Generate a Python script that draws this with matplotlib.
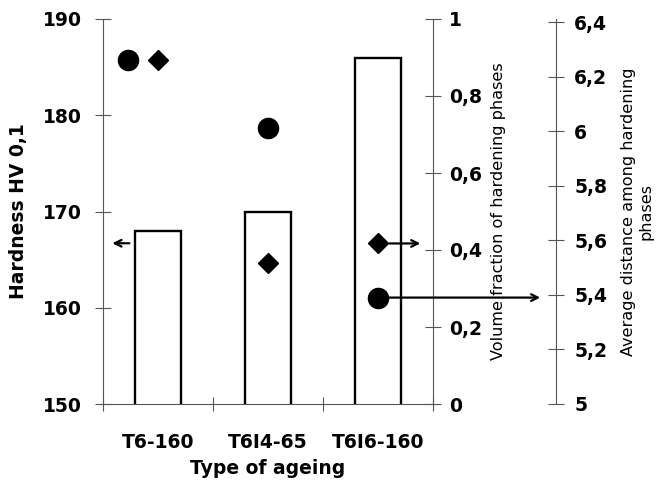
import numpy as np
import matplotlib.pyplot as plt
from matplotlib.ticker import FixedLocator, FuncFormatter

plt.rcParams['font.family'] = ['DejaVu Sans']

categories = ["T6-160", "T6I4-65", "T6I6-160"]
hardness = [168, 170, 186]
vol_fraction = [0.893, 0.366, 0.417]
avg_distance = [6.26, 6.01, 5.39]

hard_ticks = [150, 160, 170, 180, 190]
vol_ticks = [0, 0.2, 0.4, 0.6, 0.8, 1]
dist_ticks = [5, 5.2, 5.4, 5.6, 5.8, 6, 6.2, 6.4]

gray = "#555555"
comma = FuncFormatter(lambda v, p: ("%g" % round(v, 2)).replace(".", ","))

fig = plt.figure(figsize=(6.68, 4.82), dpi=100)
ax = fig.add_axes([103/668, 1 - 404/482, 330/668, 385/482])
ax2 = ax.twinx()
ax3 = ax.twinx()

x = np.arange(len(categories))

# bars - hardness
ax.bar(x, hardness, width=0.41, color="white", edgecolor="black", linewidth=1.7, zorder=2)
ax.set_ylim(150, 190)
ax.set_xlim(-0.5, 2.5)
ax.set_yticks(hard_ticks)
ax.yaxis.set_major_formatter(comma)

# category ticks on the boundaries, labels in the middle
ax.xaxis.set_major_locator(FixedLocator([-0.5, 0.5, 1.5, 2.5]))
ax.xaxis.set_minor_locator(FixedLocator(x))
ax.set_xticklabels([], minor=False)
ax.set_xticklabels(categories, minor=True)
ax.tick_params(axis="x", which="major", direction="inout", length=10, width=0.8, color=gray)
ax.tick_params(axis="x", which="minor", length=0, pad=21, labelsize=13.5)
ax.tick_params(axis="y", direction="inout", length=11, width=0.8, color=gray, pad=9.5, labelsize=13.5)

# diamonds - volume fraction
ax2.plot(x, vol_fraction, "D", color="black", markersize=10, linestyle="none", zorder=3)
ax2.set_ylim(0, 1.0)
ax2.set_yticks(vol_ticks)
ax2.yaxis.set_major_formatter(comma)
ax2.tick_params(axis="y", direction="inout", length=11, width=0.8, color=gray, pad=6, labelsize=13.5)

# circles - average distance
x_dist = x.astype(float)
x_dist[0] -= 0.27
ax3.plot(x_dist, avg_distance, "o", color="black", markersize=14.5, linestyle="none", zorder=3)
ax3.set_ylim(5, 6.411)
ax3.set_yticks(dist_ticks)
ax3.yaxis.set_major_formatter(comma)
ax3.spines["right"].set_position(("axes", 1.373))
ax3.tick_params(axis="y", direction="inout", length=11, width=0.8, color=gray, pad=7.5, labelsize=13.5)

for a in (ax, ax2, ax3):
    for s in a.spines.values():
        s.set_visible(False)
    for lab in a.get_xticklabels(which="both") + a.get_yticklabels():
        lab.set_fontweight("bold")
ax.spines["left"].set_visible(True)
ax.spines["bottom"].set_visible(True)
ax2.spines["right"].set_visible(True)
ax3.spines["right"].set_visible(True)
for s in (ax.spines["left"], ax.spines["bottom"], ax2.spines["right"], ax3.spines["right"]):
    s.set_color(gray)
    s.set_linewidth(0.8)

# arrows pointing to the corresponding axis
arr = dict(arrowstyle="->", color="black", lw=1.6, mutation_scale=12)
ax.annotate("", xy=(-0.44, 166.7), xytext=(-0.235, 166.7), arrowprops=arr, annotation_clip=False)
ax2.annotate("", xy=(2.41, vol_fraction[2]), xytext=(2.08, vol_fraction[2]), arrowprops=arr, annotation_clip=False)
ax3.annotate("", xy=(3.5, avg_distance[2]), xytext=(2.0, avg_distance[2]), arrowprops=arr, annotation_clip=False)

# axis titles
ax.text(-0.255, 0.5, "Hardness HV 0,1", transform=ax.transAxes, rotation=90,
        ha="center", va="center", fontsize=13.5, fontweight="bold")
ax.text(0.5, -0.167, "Type of ageing", transform=ax.transAxes,
        ha="center", va="center", fontsize=13.5, fontweight="bold")
ax.text(1.2, 0.5, "Volume fraction of hardening phases", transform=ax.transAxes,
        rotation=90, ha="center", va="center", fontsize=11.6)
ax.text(1.62, 0.5, "Average distance among hardening\nphases", transform=ax.transAxes,
        rotation=90, ha="center", va="center", fontsize=11.6, multialignment="center")

fig.savefig("out.png", dpi=100, facecolor="white")
